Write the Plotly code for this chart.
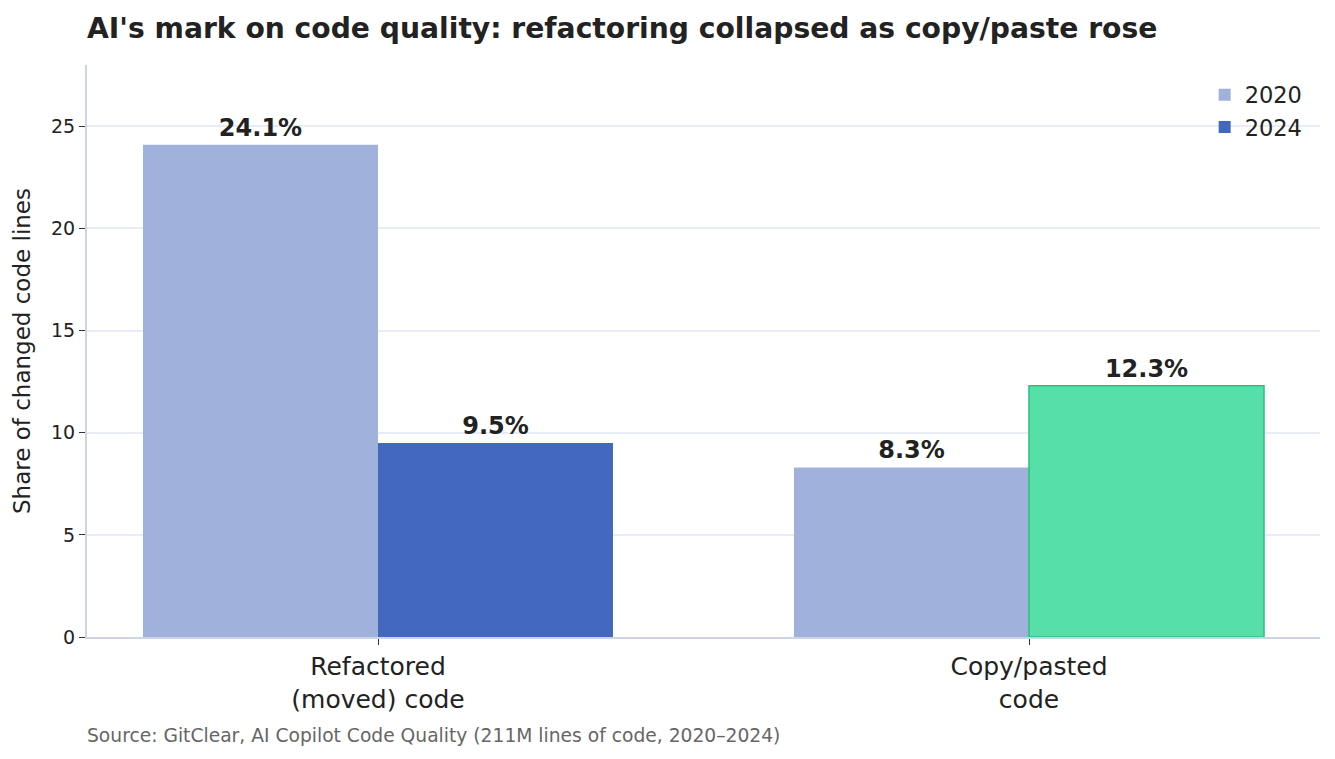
import plotly.graph_objects as go

# data
categories = ["Refactored<br>(moved) code", "Copy/pasted<br>code"]
share_2020 = [24.1, 8.3]
share_2024 = [9.5, 12.3]

# the page body has an 8px margin, so size the figure to the window minus that
W, H = 1319, 743

fig = go.Figure()

fig.add_trace(go.Bar(
    x=categories, y=share_2020, name="2020",
    marker=dict(color="#A0B2DC", line=dict(width=0)),
    text=[f"{v:.1f}%" for v in share_2020], textposition="outside",
    textfont=dict(size=24, color="#222222"),
    cliponaxis=False,
))
fig.add_trace(go.Bar(
    x=categories, y=share_2024, name="2024",
    marker=dict(color=["#4369BE", "#56DFA6"],
                line=dict(color=["#4369BE", "#2DBE80"], width=[0, 1.5])),
    text=[f"{v:.1f}%" for v in share_2024], textposition="outside",
    textfont=dict(size=24, color="#222222"),
    cliponaxis=False,
))

# bold value labels
fig.update_traces(texttemplate="<b>%{text}</b>")

fig.update_layout(
    width=W, height=H,
    font=dict(family="DejaVu Sans", color="#222222", size=19),
    title=dict(text="<b>AI's mark on code quality: refactoring collapsed as copy/paste rose</b>",
               x=79 / W, xanchor="left", y=1 - 20 / H, yanchor="middle",
               font=dict(size=28.2, color="#222222")),
    barmode="group", bargap=0.278, bargroupgap=0,
    plot_bgcolor="white", paper_bgcolor="white",
    margin=dict(l=79, r=7, t=57, b=114),
    legend=dict(x=0.99, xanchor="right", y=0.985, yanchor="top",
                font=dict(size=22.5), bgcolor="rgba(0,0,0,0)", tracegroupgap=6),
    xaxis=dict(range=[-0.447, 1.447], showline=True, linecolor="#CBD5E6", linewidth=2,
               ticks="outside", tickcolor="#333333", ticklen=6,
               tickfont=dict(size=25), showgrid=False),
    yaxis=dict(range=[0, 28], tickvals=[0, 5, 10, 15, 20, 25],
               showline=True, linecolor="#CBD5E6", linewidth=2,
               ticks="outside", tickcolor="#333333", ticklen=6,
               gridcolor="#E8ECF6", gridwidth=1.5, zeroline=False,
               title=dict(text="Share of changed code lines", font=dict(size=23), standoff=14)),
)

fig.add_annotation(
    text="Source: GitClear, AI Copilot Code Quality (211M lines of code, 2020–2024)",
    xref="paper", yref="paper", x=0, y=-98 / 572, xanchor="left", yanchor="middle",
    showarrow=False, font=dict(size=18.7, color="#666666"), xshift=-2,
)

fig.write_html("out.html")
